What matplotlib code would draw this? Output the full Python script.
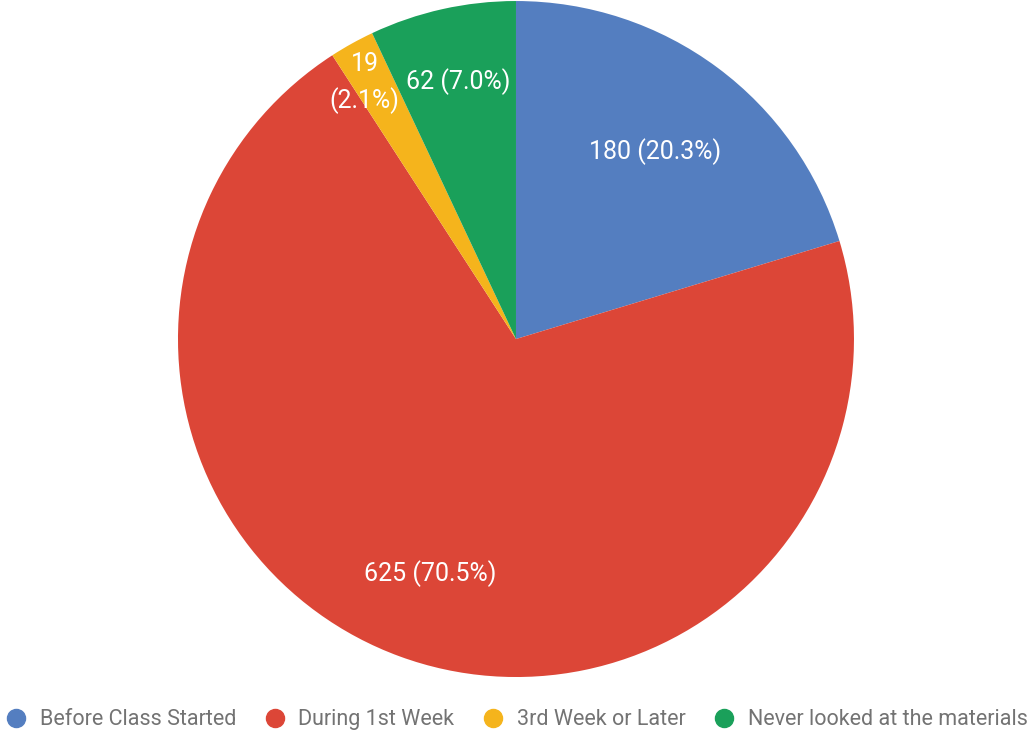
import numpy as np
import matplotlib.pyplot as plt
from matplotlib.lines import Line2D

plt.rcParams['font.family'] = ['Roboto', 'DejaVu Sans']

categories = ["Before Class Started", "During 1st Week", "3rd Week or Later",
              "Never looked at the materials"]
counts = [180, 625, 19, 62]
colors = ["#547ec0", "#dc4637", "#f5b41c", "#1aa05a"]
label_dist = [0.69, 0.74, 0.88, 0.78]

fig = plt.figure(figsize=(10.33, 7.32), dpi=100)
ax = fig.add_axes([0.1723, 0.0751, 0.6544, 0.9235])

wedges, _ = ax.pie(counts, colors=colors, startangle=90, counterclock=False,
                   radius=1.0, wedgeprops=dict(linewidth=0))
ax.set_xlim(-1, 1)
ax.set_ylim(-1, 1)
ax.set_aspect('equal')
ax.axis('off')

total = sum(counts)
for w, c, d in zip(wedges, counts, label_dist):
    ang = np.deg2rad((w.theta1 + w.theta2) / 2)
    pct = 100 * c / total
    if pct < 5:
        txt = f"{c}\n({pct:.1f}%)"
        ang += np.deg2rad(1.5)
    else:
        txt = f"{c} ({pct:.1f}%)"
    ax.text(d * np.cos(ang), d * np.sin(ang), txt, color="white", fontsize=18,
            ha="center", va="center", linespacing=1.5)

handles = [Line2D([], [], marker='o', linestyle='', markersize=13,
                  markerfacecolor=col, markeredgecolor=col) for col in colors]
fig.legend(handles, categories, loc="center", ncol=4, frameon=False,
           bbox_to_anchor=(0.5, 0.017), fontsize=15.5, labelcolor="#737373",
           handletextpad=0.6, columnspacing=1.3, handlelength=1.0,
           borderpad=0, borderaxespad=0)

plt.savefig("out.png", dpi=100)
